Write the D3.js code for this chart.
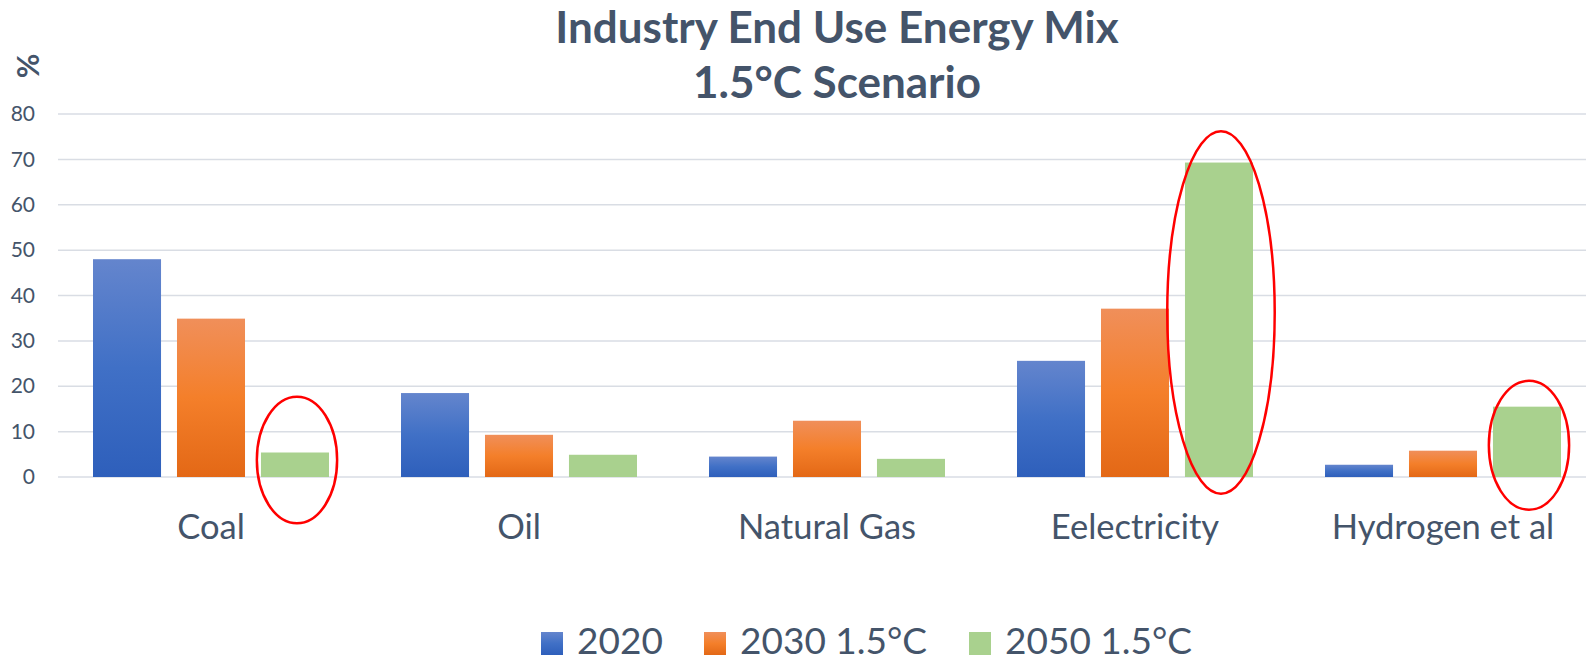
<!DOCTYPE html>
<html>
<head>
<meta charset="utf-8">
<script src="https://cdn.jsdelivr.net/npm/d3@7"></script>
<style>
  html, body { margin: 0; padding: 0; background: #fff; }
  svg { display: block; font-family: Lato, "Noto Sans", sans-serif; }
</style>
</head>
<body>
<svg id="chart" width="1586" height="661"></svg>
<script>
// Chart data
const categories = ["Coal", "Oil", "Natural Gas", "Eelectricity", "Hydrogen et al"];
const seriesNames = ["2020", "2030 1.5°C", "2050 1.5°C"];
const values2020 = [48.0, 18.5, 4.5, 25.6, 2.7];
const values2030 = [34.9, 9.3, 12.4, 37.1, 5.8];
const values2050 = [5.4, 4.9, 4.0, 69.3, 15.5];
const yTicks = [0, 10, 20, 30, 40, 50, 60, 70, 80];
const titleLines = ["Industry End Use Energy Mix", "1.5°C Scenario"];
// red ellipses drawn round some bars (value range they span)
const highlightCats = ["Coal", "Eelectricity", "Hydrogen et al"];
const highlightLow = [-10.2, -3.7, -7.2];
const highlightHigh = [17.7, 76.2, 21.2];

const seriesValues = [values2020, values2030, values2050];
const rows = categories.map((c, i) => ({
    category: c,
    values: seriesNames.map((s, j) => ({ series: s, value: seriesValues[j][i] }))
}));

const svg = d3.select("#chart");
const width = 1586;
const textColor = "#44546a";

// Scales
const x0 = d3.scaleBand()
    .domain(categories)
    .range([57, 1597])
    .paddingInner(0.2338)
    .paddingOuter(0.1169);

const x1 = d3.scaleBand()
    .domain(seriesNames)
    .range([0, x0.bandwidth()])
    .paddingInner(0.19);

const y = d3.scaleLinear().domain([0, 80]).range([477, 114]);

// Gradients for the bars
const defs = svg.append("defs");
const gradStops = {
    "2020": ["#6485cd", "#4070c6", "#2e5fbb"],
    "2030 1.5°C": ["#f08f5a", "#f47f2a", "#e36816"],
    "2050 1.5°C": ["#a9d18e", "#a9d18e", "#a9d18e"]
};
seriesNames.forEach((s, i) => {
    const g = defs.append("linearGradient")
        .attr("id", "grad" + i)
        .attr("x1", 0).attr("y1", 0).attr("x2", 0).attr("y2", 1);
    gradStops[s].forEach((col, k) => {
        g.append("stop").attr("offset", (k * 50) + "%").attr("stop-color", col);
    });
});
const fillFor = (s) => "url(#grad" + seriesNames.indexOf(s) + ")";

// Gridlines
svg.append("g")
    .selectAll("line")
    .data(yTicks)
    .join("line")
    .attr("x1", 58)
    .attr("x2", width)
    .attr("y1", (d) => y(d))
    .attr("y2", (d) => y(d))
    .attr("stroke", "#d9dde4")
    .attr("stroke-width", 1.5);

// Y axis labels
const yAxis = svg.append("g")
    .attr("transform", "translate(35,0)")
    .call(d3.axisLeft(y).tickValues(yTicks).tickSize(0).tickPadding(0));
yAxis.select(".domain").remove();
yAxis.selectAll("text")
    .attr("fill", textColor)
    .style("font-size", "21px")
    .style("font-family", "Lato, sans-serif");

svg.append("text")
    .attr("transform", "translate(27,66) rotate(-90)")
    .attr("text-anchor", "middle")
    .attr("dominant-baseline", "central")
    .attr("fill", textColor)
    .style("font-size", "30px")
    .style("font-weight", "bold")
    .text("%");

// Bars
const groups = svg.append("g")
    .selectAll("g")
    .data(rows)
    .join("g")
    .attr("transform", (d) => `translate(${x0(d.category)},0)`);

groups.selectAll("rect")
    .data((d) => d.values)
    .join("rect")
    .attr("x", (d) => x1(d.series))
    .attr("y", (d) => y(d.value))
    .attr("width", x1.bandwidth())
    .attr("height", (d) => y(0) - y(d.value))
    .attr("fill", (d) => fillFor(d.series));

// Category labels
svg.append("g")
    .selectAll("text")
    .data(categories)
    .join("text")
    .attr("x", (d) => x0(d) + x0.bandwidth() / 2)
    .attr("y", 539)
    .attr("text-anchor", "middle")
    .attr("fill", textColor)
    .style("font-size", "34.5px")
    .text((d) => d);

// Red highlight ellipses on the 2050 bars
const ellipseWiden = [1.18, 1.58, 1.18];
svg.append("g")
    .selectAll("ellipse")
    .data(highlightCats)
    .join("ellipse")
    .attr("cx", (d) => x0(d) + x1("2050 1.5°C") + x1.bandwidth() / 2 + 2)
    .attr("cy", (d, i) => (y(highlightLow[i]) + y(highlightHigh[i])) / 2)
    .attr("rx", (d, i) => x1.bandwidth() * ellipseWiden[i] / 2)
    .attr("ry", (d, i) => (y(highlightLow[i]) - y(highlightHigh[i])) / 2)
    .attr("fill", "none")
    .attr("stroke", "#ff0000")
    .attr("stroke-width", 2.5);

// Title
svg.append("g")
    .selectAll("text")
    .data(titleLines)
    .join("text")
    .attr("x", 837)
    .attr("y", (d, i) => 43 + i * 55)
    .attr("text-anchor", "middle")
    .attr("fill", textColor)
    .style("font-size", "44px")
    .style("font-weight", "bold")
    .text((d) => d);

// Legend
const legendX = [541, 704, 969];
const legend = svg.append("g")
    .selectAll("g")
    .data(seriesNames)
    .join("g")
    .attr("transform", (d, i) => `translate(${legendX[i]},0)`);
legend.append("rect")
    .attr("x", 0)
    .attr("y", 632)
    .attr("width", 22)
    .attr("height", 23)
    .attr("fill", (d) => fillFor(d));
legend.append("text")
    .attr("x", 36)
    .attr("y", 654)
    .attr("fill", textColor)
    .style("font-size", "37px")
    .text((d) => d);
</script>
</body>
</html>
